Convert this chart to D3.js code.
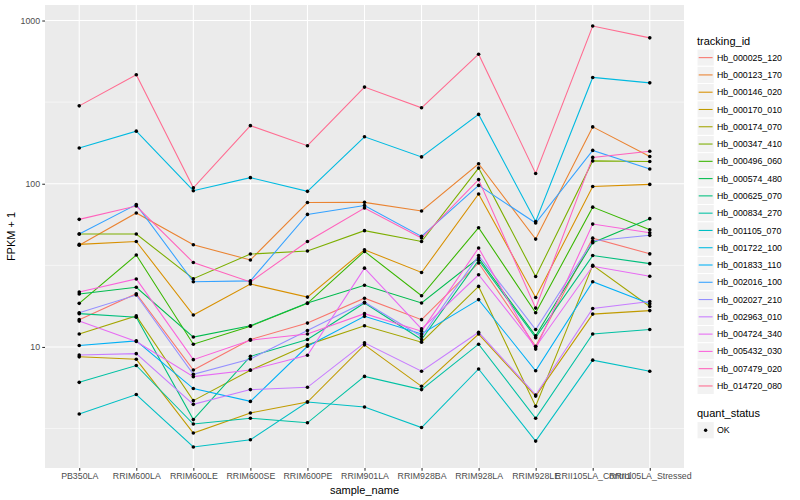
<!DOCTYPE html>
<html><head><meta charset="utf-8">
<script src="https://cdn.jsdelivr.net/npm/d3@7"></script>
<style>body{margin:0;background:#fff}svg{font-family:"Liberation Sans",Arial,Helvetica,sans-serif}</style>
</head><body><svg id="c" width="800" height="500"></svg>
<script>
const samples = ["PB350LA","RRIM600LA","RRIM600LE","RRIM600SE","RRIM600PE","RRIM901LA","RRIM928BA","RRIM928LA","RRIM928LE","RRII105LA_Control","RRII105LA_Stressed"];
const trackingIds = ["Hb_000025_120","Hb_000123_170","Hb_000146_020","Hb_000170_010","Hb_000174_070","Hb_000347_410","Hb_000496_060","Hb_000574_480","Hb_000625_070","Hb_000834_270","Hb_001105_070","Hb_001722_100","Hb_001833_110","Hb_002016_100","Hb_002027_210","Hb_002963_010","Hb_004724_340","Hb_005432_030","Hb_007479_020","Hb_014720_080"];
const seriesColors = ["#F8766D","#EA8331","#D89000","#C09B00","#A3A500","#7CAE00","#39B600","#00BB4E","#00BF7D","#00C1A3","#00BFC4","#00BAE0","#00B0F6","#35A2FF","#9590FF","#C77CFF","#E76BF3","#FA62DB","#FF62BC","#FF6C91"];
const yTicks = [10, 100, 1000];
const yMinor = [3.1623, 31.623, 316.23];
const quantStatus = ["OK"];

// FPKM + 1 per sample (order of samples)
const hb_000025_120 = [14.7, 21.2, 7.23, 11.1, 14.0, 19.9, 14.7, 32.7, 10.1, 46.4, 37.2];
const hb_000123_170 = [42, 66.2, 42.3, 34.1, 76.7, 76.9, 68.1, 132.5, 45.8, 223, 147];
const hb_000146_020 = [42.5, 44.3, 15.7, 24.3, 20.2, 39.4, 28.6, 86.5, 20.1, 96.2, 99.1];
const hb_000170_010 = [8.7, 8.4, 2.97, 3.94, 4.6, 10.3, 5.74, 12.0, 5.0, 15.9, 16.7];
const hb_000174_070 = [12.0, 15.5, 4.69, 7.2, 10.3, 13.5, 10.7, 23.5, 4.33, 31.6, 17.7];
const hb_000347_410 = [49.2, 49.2, 26.2, 37.1, 38.7, 51.6, 44.3, 124.7, 27.0, 138, 137];
const hb_000496_060 = [18.5, 36.6, 10.4, 13.4, 18.5, 38.5, 20.6, 53.8, 16.2, 71.9, 52.2];
const hb_000574_480 = [21.1, 23.2, 11.5, 13.5, 18.6, 23.9, 18.6, 35.1, 11.7, 43.5, 61.1];
const hb_000625_070 = [16.0, 15.2, 3.59, 8.76, 11.1, 18.6, 11.1, 34.0, 11.4, 36.3, 32.4];
const hb_000834_270 = [6.07, 7.7, 3.37, 3.66, 3.43, 6.6, 5.48, 10.4, 3.66, 12.0, 12.8];
const hb_001105_070 = [3.88, 5.11, 2.44, 2.70, 4.6, 4.29, 3.21, 7.33, 2.65, 8.3, 7.1];
const hb_001722_100 = [165.5, 210, 90.6, 109, 89.8, 194, 146, 266, 58.7, 448, 415];
const hb_001833_110 = [10.2, 10.9, 5.56, 4.64, 10.1, 15.4, 12.0, 19.5, 7.15, 25.1, 18.4];
const hb_002016_100 = [49.2, 74.5, 25.1, 25.4, 64.9, 73.6, 47.6, 97.7, 57.5, 160, 123];
const hb_002027_210 = [16.2, 20.8, 6.8, 8.44, 12.6, 18.8, 11.6, 36.3, 12.8, 44.6, 48.3];
const hb_002963_010 = [8.93, 9.1, 4.45, 5.48, 5.66, 10.6, 7.1, 12.3, 5.08, 17.2, 19.0];
const hb_004724_340 = [14.4, 10.8, 6.58, 7.23, 8.9, 30.4, 12.9, 27.7, 10.0, 31.2, 27.1];
const hb_005432_030 = [21.7, 26.1, 8.36, 11.0, 12.0, 16.0, 12.5, 40.4, 9.7, 56.6, 50.1];
const hb_007479_020 = [60.5, 73, 32.9, 25.0, 44.3, 71.0, 46.5, 106, 17.3, 145, 158];
const hb_014720_080 = [300, 465, 94.5, 227, 171, 391, 292, 622, 115.6, 925, 783];

const seriesValues = [hb_000025_120, hb_000123_170, hb_000146_020, hb_000170_010, hb_000174_070, hb_000347_410, hb_000496_060, hb_000574_480, hb_000625_070, hb_000834_270, hb_001105_070, hb_001722_100, hb_001833_110, hb_002016_100, hb_002027_210, hb_002963_010, hb_004724_340, hb_005432_030, hb_007479_020, hb_014720_080];

const series = trackingIds.map((id, i) => ({id, color: seriesColors[i], pts: samples.map((s, j) => ({s, v: seriesValues[i][j]}))}));

const svg = d3.select("#c");
const L = 45, R = 684, T = 5, B = 468;

const allV = seriesValues.flat();
const lmin = Math.log10(d3.min(allV)), lmax = Math.log10(d3.max(allV));
const ex = (lmax - lmin) * 0.05;
const x = d3.scalePoint().domain(samples).range([L, R]).padding(0.6);
const y = d3.scaleLog().domain([Math.pow(10, lmin - ex), Math.pow(10, lmax + ex)]).range([B, T]);

// panel
svg.append("rect").attr("x", L).attr("y", T).attr("width", R - L).attr("height", B - T).attr("fill", "#EBEBEB");
const grid = svg.append("g");
grid.selectAll(".mn").data(yMinor).join("line").attr("x1", L).attr("x2", R)
  .attr("y1", d => y(d)).attr("y2", d => y(d)).attr("stroke", "#fff").attr("stroke-width", 0.53);
grid.selectAll(".mj").data(yTicks).join("line").attr("x1", L).attr("x2", R)
  .attr("y1", d => y(d)).attr("y2", d => y(d)).attr("stroke", "#fff").attr("stroke-width", 1.07);
grid.selectAll(".vx").data(samples).join("line").attr("y1", T).attr("y2", B)
  .attr("x1", d => x(d)).attr("x2", d => x(d)).attr("stroke", "#fff").attr("stroke-width", 1.07);

// lines
const line = d3.line().x(d => x(d.s)).y(d => y(d.v));
svg.append("g").selectAll("path").data(series).join("path")
  .attr("d", d => line(d.pts)).attr("fill", "none").attr("stroke", d => d.color).attr("stroke-width", 1.07);

// points
svg.append("g").selectAll("circle").data(series.flatMap(d => d.pts)).join("circle")
  .attr("cx", d => x(d.s)).attr("cy", d => y(d.v)).attr("r", 1.8).attr("fill", "#000");

// axes
const ya = svg.append("g").attr("transform", `translate(${L},0)`)
  .call(d3.axisLeft(y).tickValues(yTicks).tickFormat(d3.format("d")).tickSize(2.75).tickPadding(2.2));
const xa = svg.append("g").attr("transform", `translate(0,${B})`)
  .call(d3.axisBottom(x).tickSize(2.75).tickPadding(2.2));
[ya, xa].forEach(a => {
  a.select(".domain").remove();
  a.selectAll(".tick line").attr("stroke", "#333").attr("stroke-width", 1.07);
  a.selectAll(".tick text").attr("fill", "#4D4D4D").style("font-size", "8.8px").style("font-family", "Liberation Sans, Arial, sans-serif");
});

svg.append("text").attr("x", (L + R) / 2).attr("y", 494).attr("text-anchor", "middle")
  .style("font-size", "11px").attr("fill", "#000").text("sample_name");
svg.append("text").attr("transform", `translate(15,${(T + B) / 2}) rotate(-90)`).attr("text-anchor", "middle")
  .style("font-size", "11px").attr("fill", "#000").text("FPKM + 1");

// legend
const lg = svg.append("g").attr("transform", "translate(697,0)");
lg.append("text").attr("x", 0).attr("y", 44.5).style("font-size", "11px").text("tracking_id");
const kh = 17.28, k0 = 49;
const items = lg.selectAll(".k").data(series).join("g").attr("transform", (d, i) => `translate(0,${k0 + i * kh})`);
items.append("rect").attr("width", kh).attr("height", kh).attr("fill", "#F2F2F2").attr("stroke", "#fff").attr("stroke-width", 1);
items.append("line").attr("x1", 1.7).attr("x2", kh - 1.7).attr("y1", kh / 2).attr("y2", kh / 2)
  .attr("stroke", d => d.color).attr("stroke-width", 1.07);
items.append("text").attr("x", kh + 2.6).attr("y", kh / 2 + 3.1).style("font-size", "8.8px").text(d => d.id);

const q0 = k0 + 20 * kh + 18;
lg.append("text").attr("x", 0).attr("y", q0 + 4).style("font-size", "11px").text("quant_status");
const qi = lg.selectAll(".q").data(quantStatus).join("g").attr("transform", (d, i) => `translate(0,${q0 + 9 + i * kh})`);
qi.append("rect").attr("width", kh).attr("height", kh).attr("fill", "#F2F2F2").attr("stroke", "#fff");
qi.append("circle").attr("cx", kh / 2).attr("cy", kh / 2).attr("r", 1.7).attr("fill", "#000");
qi.append("text").attr("x", kh + 2.6).attr("y", kh / 2 + 3.1).style("font-size", "8.8px").text(d => d);
</script></body></html>
